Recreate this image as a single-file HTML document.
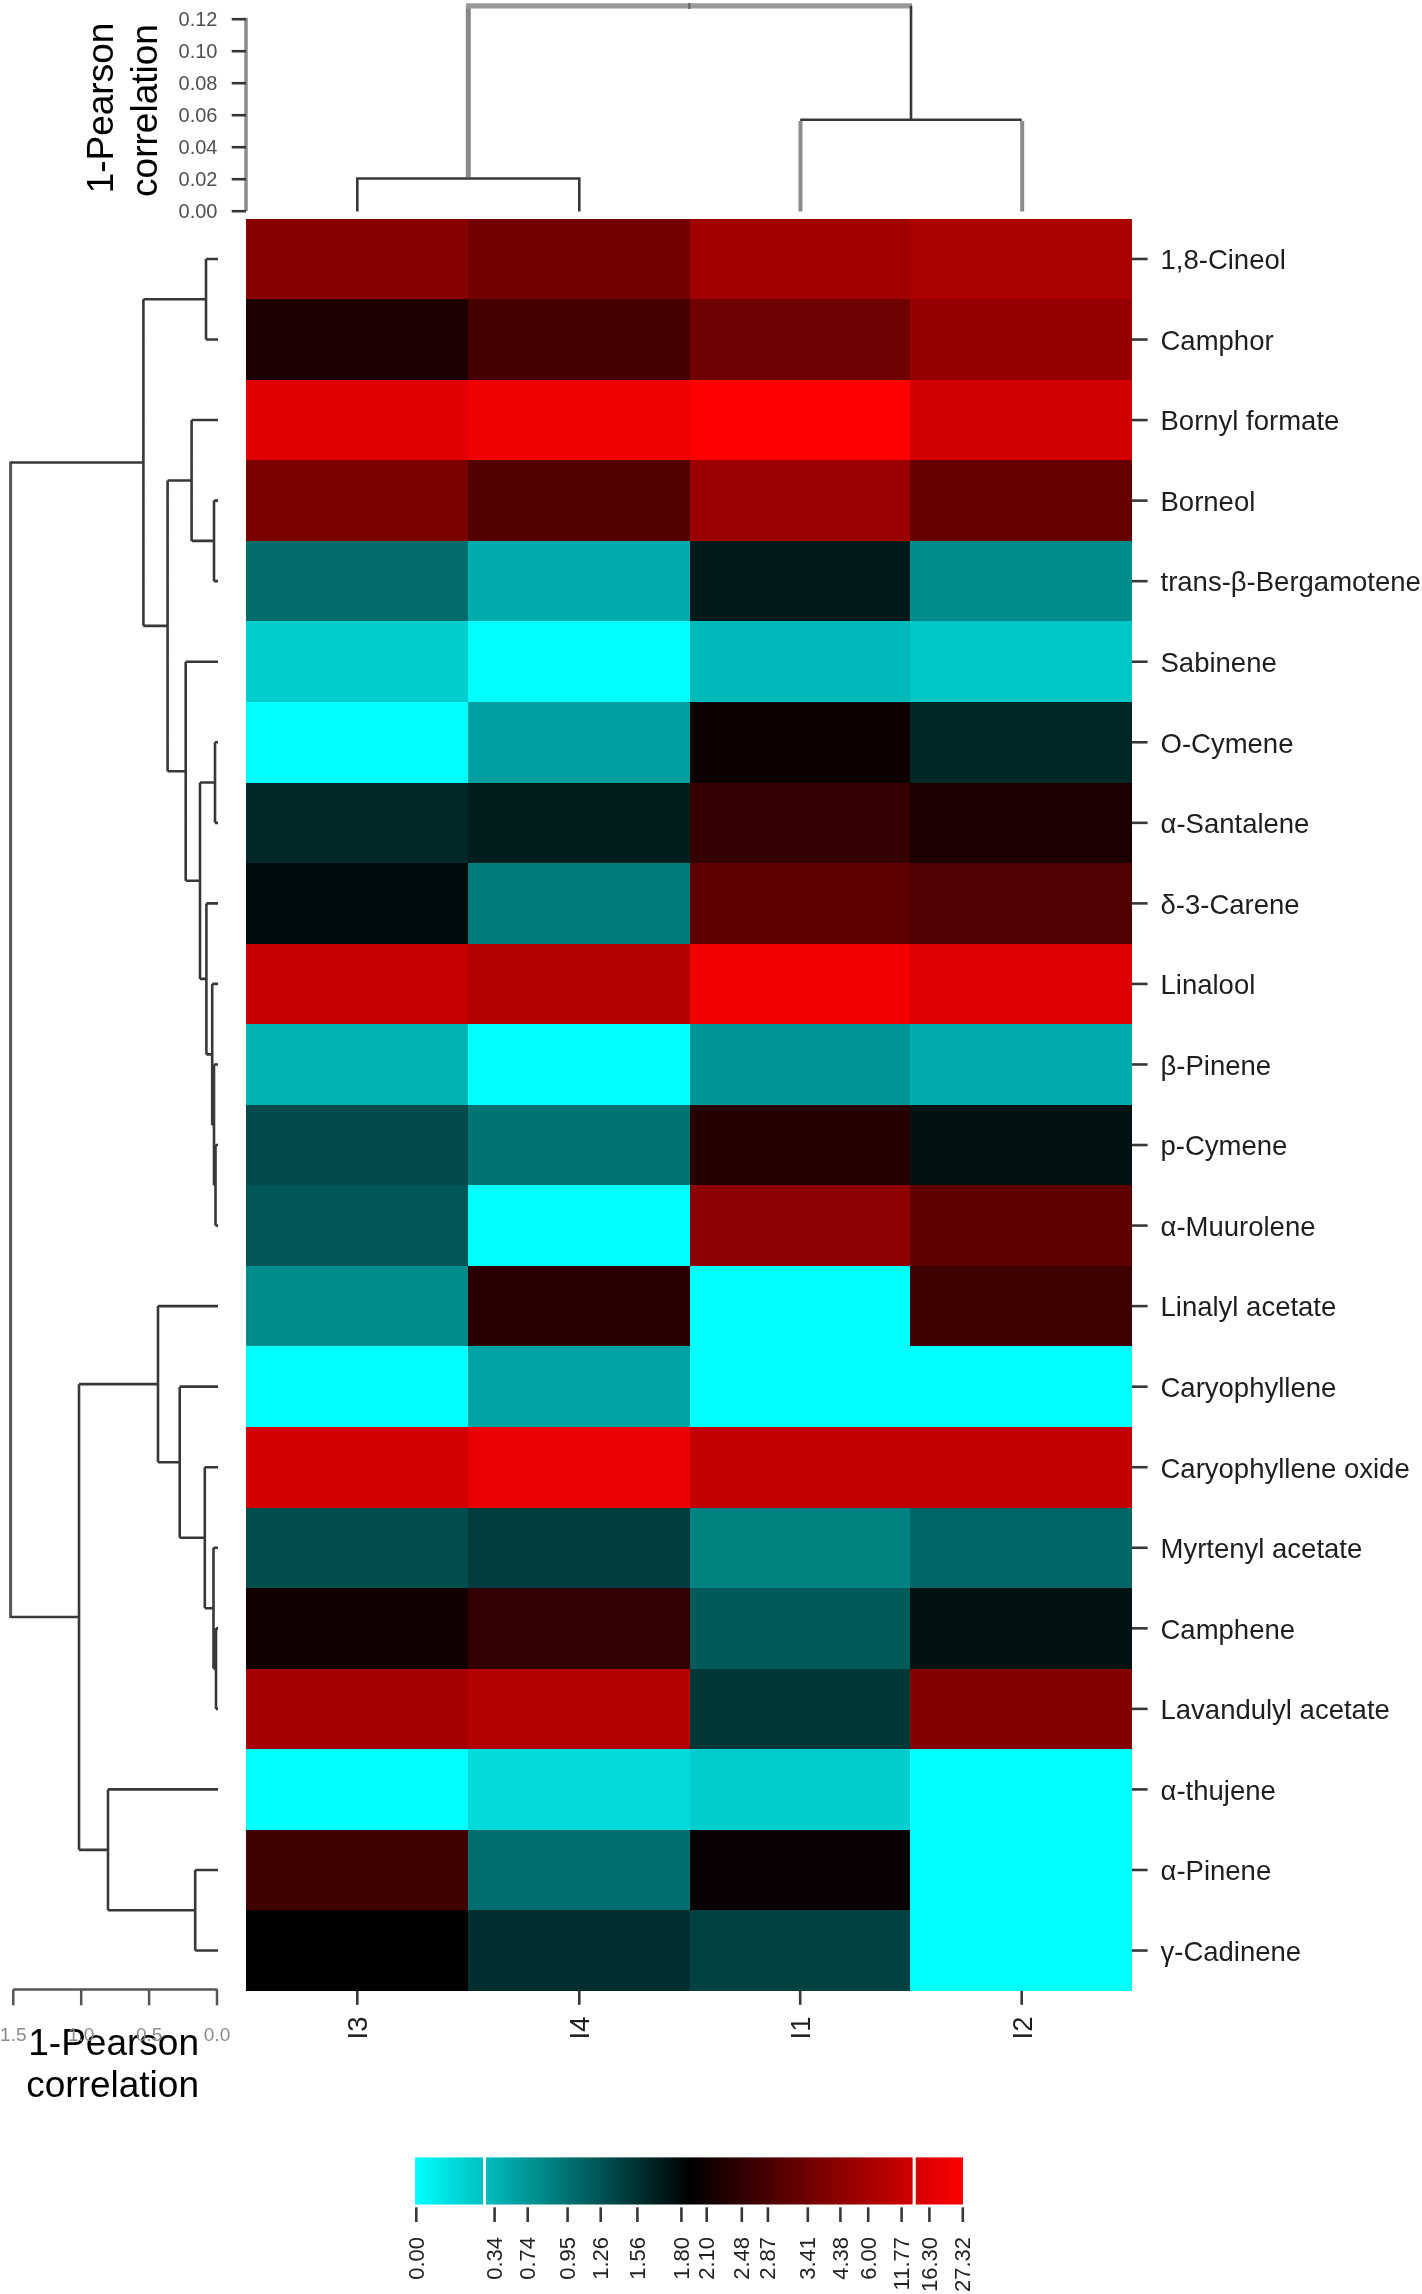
<!DOCTYPE html><html><head><meta charset="utf-8"><style>html,body{margin:0;padding:0;background:#fff;width:1422px;height:2294px;overflow:hidden}svg{display:block;will-change:transform}text{font-family:"Liberation Sans",sans-serif}</style></head><body>
<svg width="1422" height="2294" viewBox="0 0 1422 2294">
<rect x="246" y="219" width="222" height="80" fill="rgb(138,0,0)" shape-rendering="crispEdges"/>
<rect x="468" y="219" width="222" height="80" fill="rgb(115,0,0)" shape-rendering="crispEdges"/>
<rect x="690" y="219" width="220" height="80" fill="rgb(160,0,0)" shape-rendering="crispEdges"/>
<rect x="910" y="219" width="222" height="80" fill="rgb(172,0,0)" shape-rendering="crispEdges"/>
<rect x="246" y="299" width="222" height="81" fill="rgb(28,0,0)" shape-rendering="crispEdges"/>
<rect x="468" y="299" width="222" height="81" fill="rgb(70,0,0)" shape-rendering="crispEdges"/>
<rect x="690" y="299" width="220" height="81" fill="rgb(112,0,0)" shape-rendering="crispEdges"/>
<rect x="910" y="299" width="222" height="81" fill="rgb(150,0,0)" shape-rendering="crispEdges"/>
<rect x="246" y="380" width="222" height="80" fill="rgb(225,0,0)" shape-rendering="crispEdges"/>
<rect x="468" y="380" width="222" height="80" fill="rgb(240,0,0)" shape-rendering="crispEdges"/>
<rect x="690" y="380" width="220" height="80" fill="rgb(255,0,0)" shape-rendering="crispEdges"/>
<rect x="910" y="380" width="222" height="80" fill="rgb(210,0,0)" shape-rendering="crispEdges"/>
<rect x="246" y="460" width="222" height="81" fill="rgb(122,0,0)" shape-rendering="crispEdges"/>
<rect x="468" y="460" width="222" height="81" fill="rgb(82,0,0)" shape-rendering="crispEdges"/>
<rect x="690" y="460" width="220" height="81" fill="rgb(155,0,0)" shape-rendering="crispEdges"/>
<rect x="910" y="460" width="222" height="81" fill="rgb(102,0,0)" shape-rendering="crispEdges"/>
<rect x="246" y="541" width="222" height="80" fill="rgb(0,108,108)" shape-rendering="crispEdges"/>
<rect x="468" y="541" width="222" height="80" fill="rgb(0,172,172)" shape-rendering="crispEdges"/>
<rect x="690" y="541" width="220" height="80" fill="rgb(0,26,26)" shape-rendering="crispEdges"/>
<rect x="910" y="541" width="222" height="80" fill="rgb(0,140,140)" shape-rendering="crispEdges"/>
<rect x="246" y="621" width="222" height="81" fill="rgb(0,205,205)" shape-rendering="crispEdges"/>
<rect x="468" y="621" width="222" height="81" fill="rgb(0,255,255)" shape-rendering="crispEdges"/>
<rect x="690" y="621" width="220" height="81" fill="rgb(0,185,185)" shape-rendering="crispEdges"/>
<rect x="910" y="621" width="222" height="81" fill="rgb(0,198,198)" shape-rendering="crispEdges"/>
<rect x="246" y="702" width="222" height="81" fill="rgb(0,255,255)" shape-rendering="crispEdges"/>
<rect x="468" y="702" width="222" height="81" fill="rgb(0,160,160)" shape-rendering="crispEdges"/>
<rect x="690" y="702" width="220" height="81" fill="rgb(12,0,0)" shape-rendering="crispEdges"/>
<rect x="910" y="702" width="222" height="81" fill="rgb(0,38,38)" shape-rendering="crispEdges"/>
<rect x="246" y="783" width="222" height="80" fill="rgb(0,40,40)" shape-rendering="crispEdges"/>
<rect x="468" y="783" width="222" height="80" fill="rgb(0,30,30)" shape-rendering="crispEdges"/>
<rect x="690" y="783" width="220" height="80" fill="rgb(53,0,0)" shape-rendering="crispEdges"/>
<rect x="910" y="783" width="222" height="80" fill="rgb(28,0,0)" shape-rendering="crispEdges"/>
<rect x="246" y="863" width="222" height="81" fill="rgb(0,12,12)" shape-rendering="crispEdges"/>
<rect x="468" y="863" width="222" height="81" fill="rgb(0,122,122)" shape-rendering="crispEdges"/>
<rect x="690" y="863" width="220" height="81" fill="rgb(92,0,0)" shape-rendering="crispEdges"/>
<rect x="910" y="863" width="222" height="81" fill="rgb(80,0,0)" shape-rendering="crispEdges"/>
<rect x="246" y="944" width="222" height="80" fill="rgb(198,0,0)" shape-rendering="crispEdges"/>
<rect x="468" y="944" width="222" height="80" fill="rgb(180,0,0)" shape-rendering="crispEdges"/>
<rect x="690" y="944" width="220" height="80" fill="rgb(245,0,0)" shape-rendering="crispEdges"/>
<rect x="910" y="944" width="222" height="80" fill="rgb(220,0,0)" shape-rendering="crispEdges"/>
<rect x="246" y="1024" width="222" height="81" fill="rgb(0,180,180)" shape-rendering="crispEdges"/>
<rect x="468" y="1024" width="222" height="81" fill="rgb(0,255,255)" shape-rendering="crispEdges"/>
<rect x="690" y="1024" width="220" height="81" fill="rgb(0,150,150)" shape-rendering="crispEdges"/>
<rect x="910" y="1024" width="222" height="81" fill="rgb(0,172,172)" shape-rendering="crispEdges"/>
<rect x="246" y="1105" width="222" height="80" fill="rgb(0,74,74)" shape-rendering="crispEdges"/>
<rect x="468" y="1105" width="222" height="80" fill="rgb(0,115,115)" shape-rendering="crispEdges"/>
<rect x="690" y="1105" width="220" height="80" fill="rgb(38,0,0)" shape-rendering="crispEdges"/>
<rect x="910" y="1105" width="222" height="80" fill="rgb(0,18,18)" shape-rendering="crispEdges"/>
<rect x="246" y="1185" width="222" height="81" fill="rgb(0,86,86)" shape-rendering="crispEdges"/>
<rect x="468" y="1185" width="222" height="81" fill="rgb(0,255,255)" shape-rendering="crispEdges"/>
<rect x="690" y="1185" width="220" height="81" fill="rgb(140,0,0)" shape-rendering="crispEdges"/>
<rect x="910" y="1185" width="222" height="81" fill="rgb(95,0,0)" shape-rendering="crispEdges"/>
<rect x="246" y="1266" width="222" height="80" fill="rgb(0,140,140)" shape-rendering="crispEdges"/>
<rect x="468" y="1266" width="222" height="80" fill="rgb(45,0,0)" shape-rendering="crispEdges"/>
<rect x="690" y="1266" width="220" height="80" fill="rgb(0,255,255)" shape-rendering="crispEdges"/>
<rect x="910" y="1266" width="222" height="80" fill="rgb(62,0,0)" shape-rendering="crispEdges"/>
<rect x="246" y="1346" width="222" height="81" fill="rgb(0,255,255)" shape-rendering="crispEdges"/>
<rect x="468" y="1346" width="222" height="81" fill="rgb(0,162,162)" shape-rendering="crispEdges"/>
<rect x="690" y="1346" width="220" height="81" fill="rgb(0,255,255)" shape-rendering="crispEdges"/>
<rect x="910" y="1346" width="222" height="81" fill="rgb(0,255,255)" shape-rendering="crispEdges"/>
<rect x="246" y="1427" width="222" height="81" fill="rgb(212,0,0)" shape-rendering="crispEdges"/>
<rect x="468" y="1427" width="222" height="81" fill="rgb(235,0,0)" shape-rendering="crispEdges"/>
<rect x="690" y="1427" width="220" height="81" fill="rgb(195,0,0)" shape-rendering="crispEdges"/>
<rect x="910" y="1427" width="222" height="81" fill="rgb(195,0,0)" shape-rendering="crispEdges"/>
<rect x="246" y="1508" width="222" height="80" fill="rgb(0,79,79)" shape-rendering="crispEdges"/>
<rect x="468" y="1508" width="222" height="80" fill="rgb(0,60,60)" shape-rendering="crispEdges"/>
<rect x="690" y="1508" width="220" height="80" fill="rgb(0,130,130)" shape-rendering="crispEdges"/>
<rect x="910" y="1508" width="222" height="80" fill="rgb(0,102,102)" shape-rendering="crispEdges"/>
<rect x="246" y="1588" width="222" height="81" fill="rgb(18,0,0)" shape-rendering="crispEdges"/>
<rect x="468" y="1588" width="222" height="81" fill="rgb(50,0,0)" shape-rendering="crispEdges"/>
<rect x="690" y="1588" width="220" height="81" fill="rgb(0,90,90)" shape-rendering="crispEdges"/>
<rect x="910" y="1588" width="222" height="81" fill="rgb(0,18,18)" shape-rendering="crispEdges"/>
<rect x="246" y="1669" width="222" height="80" fill="rgb(165,0,0)" shape-rendering="crispEdges"/>
<rect x="468" y="1669" width="222" height="80" fill="rgb(180,0,0)" shape-rendering="crispEdges"/>
<rect x="690" y="1669" width="220" height="80" fill="rgb(0,55,55)" shape-rendering="crispEdges"/>
<rect x="910" y="1669" width="222" height="80" fill="rgb(132,0,0)" shape-rendering="crispEdges"/>
<rect x="246" y="1749" width="222" height="81" fill="rgb(0,255,255)" shape-rendering="crispEdges"/>
<rect x="468" y="1749" width="222" height="81" fill="rgb(0,218,218)" shape-rendering="crispEdges"/>
<rect x="690" y="1749" width="220" height="81" fill="rgb(0,205,205)" shape-rendering="crispEdges"/>
<rect x="910" y="1749" width="222" height="81" fill="rgb(0,255,255)" shape-rendering="crispEdges"/>
<rect x="246" y="1830" width="222" height="80" fill="rgb(65,0,0)" shape-rendering="crispEdges"/>
<rect x="468" y="1830" width="222" height="80" fill="rgb(0,110,110)" shape-rendering="crispEdges"/>
<rect x="690" y="1830" width="220" height="80" fill="rgb(8,0,0)" shape-rendering="crispEdges"/>
<rect x="910" y="1830" width="222" height="80" fill="rgb(0,255,255)" shape-rendering="crispEdges"/>
<rect x="246" y="1910" width="222" height="81" fill="rgb(2,0,0)" shape-rendering="crispEdges"/>
<rect x="468" y="1910" width="222" height="81" fill="rgb(0,45,45)" shape-rendering="crispEdges"/>
<rect x="690" y="1910" width="220" height="81" fill="rgb(0,65,65)" shape-rendering="crispEdges"/>
<rect x="910" y="1910" width="222" height="81" fill="rgb(0,255,255)" shape-rendering="crispEdges"/>
<line x1="1131.8" y1="258.97" x2="1147.6" y2="258.97" stroke="#383838" stroke-width="2.6" fill="none"/>
<text x="1160.5" y="269.27" font-size="27.5" fill="#1e1e1e">1,8-Cineol</text>
<line x1="1131.8" y1="339.52" x2="1147.6" y2="339.52" stroke="#383838" stroke-width="2.6" fill="none"/>
<text x="1160.5" y="349.82" font-size="27.5" fill="#1e1e1e">Camphor</text>
<line x1="1131.8" y1="420.07" x2="1147.6" y2="420.07" stroke="#383838" stroke-width="2.6" fill="none"/>
<text x="1160.5" y="430.38" font-size="27.5" fill="#1e1e1e">Bornyl formate</text>
<line x1="1131.8" y1="500.62" x2="1147.6" y2="500.62" stroke="#383838" stroke-width="2.6" fill="none"/>
<text x="1160.5" y="510.93" font-size="27.5" fill="#1e1e1e">Borneol</text>
<line x1="1131.8" y1="581.17" x2="1147.6" y2="581.17" stroke="#383838" stroke-width="2.6" fill="none"/>
<text x="1160.5" y="591.47" font-size="27.5" fill="#1e1e1e">trans-β-Bergamotene</text>
<line x1="1131.8" y1="661.72" x2="1147.6" y2="661.72" stroke="#383838" stroke-width="2.6" fill="none"/>
<text x="1160.5" y="672.02" font-size="27.5" fill="#1e1e1e">Sabinene</text>
<line x1="1131.8" y1="742.27" x2="1147.6" y2="742.27" stroke="#383838" stroke-width="2.6" fill="none"/>
<text x="1160.5" y="752.57" font-size="27.5" fill="#1e1e1e">O-Cymene</text>
<line x1="1131.8" y1="822.83" x2="1147.6" y2="822.83" stroke="#383838" stroke-width="2.6" fill="none"/>
<text x="1160.5" y="833.12" font-size="27.5" fill="#1e1e1e">α-Santalene</text>
<line x1="1131.8" y1="903.38" x2="1147.6" y2="903.38" stroke="#383838" stroke-width="2.6" fill="none"/>
<text x="1160.5" y="913.67" font-size="27.5" fill="#1e1e1e">δ-3-Carene</text>
<line x1="1131.8" y1="983.92" x2="1147.6" y2="983.92" stroke="#383838" stroke-width="2.6" fill="none"/>
<text x="1160.5" y="994.22" font-size="27.5" fill="#1e1e1e">Linalool</text>
<line x1="1131.8" y1="1064.47" x2="1147.6" y2="1064.47" stroke="#383838" stroke-width="2.6" fill="none"/>
<text x="1160.5" y="1074.77" font-size="27.5" fill="#1e1e1e">β-Pinene</text>
<line x1="1131.8" y1="1145.02" x2="1147.6" y2="1145.02" stroke="#383838" stroke-width="2.6" fill="none"/>
<text x="1160.5" y="1155.32" font-size="27.5" fill="#1e1e1e">p-Cymene</text>
<line x1="1131.8" y1="1225.58" x2="1147.6" y2="1225.58" stroke="#383838" stroke-width="2.6" fill="none"/>
<text x="1160.5" y="1235.88" font-size="27.5" fill="#1e1e1e">α-Muurolene</text>
<line x1="1131.8" y1="1306.12" x2="1147.6" y2="1306.12" stroke="#383838" stroke-width="2.6" fill="none"/>
<text x="1160.5" y="1316.42" font-size="27.5" fill="#1e1e1e">Linalyl acetate</text>
<line x1="1131.8" y1="1386.67" x2="1147.6" y2="1386.67" stroke="#383838" stroke-width="2.6" fill="none"/>
<text x="1160.5" y="1396.97" font-size="27.5" fill="#1e1e1e">Caryophyllene</text>
<line x1="1131.8" y1="1467.22" x2="1147.6" y2="1467.22" stroke="#383838" stroke-width="2.6" fill="none"/>
<text x="1160.5" y="1477.52" font-size="27.5" fill="#1e1e1e">Caryophyllene oxide</text>
<line x1="1131.8" y1="1547.78" x2="1147.6" y2="1547.78" stroke="#383838" stroke-width="2.6" fill="none"/>
<text x="1160.5" y="1558.08" font-size="27.5" fill="#1e1e1e">Myrtenyl acetate</text>
<line x1="1131.8" y1="1628.33" x2="1147.6" y2="1628.33" stroke="#383838" stroke-width="2.6" fill="none"/>
<text x="1160.5" y="1638.62" font-size="27.5" fill="#1e1e1e">Camphene</text>
<line x1="1131.8" y1="1708.88" x2="1147.6" y2="1708.88" stroke="#383838" stroke-width="2.6" fill="none"/>
<text x="1160.5" y="1719.17" font-size="27.5" fill="#1e1e1e">Lavandulyl acetate</text>
<line x1="1131.8" y1="1789.42" x2="1147.6" y2="1789.42" stroke="#383838" stroke-width="2.6" fill="none"/>
<text x="1160.5" y="1799.72" font-size="27.5" fill="#1e1e1e">α-thujene</text>
<line x1="1131.8" y1="1869.97" x2="1147.6" y2="1869.97" stroke="#383838" stroke-width="2.6" fill="none"/>
<text x="1160.5" y="1880.27" font-size="27.5" fill="#1e1e1e">α-Pinene</text>
<line x1="1131.8" y1="1950.53" x2="1147.6" y2="1950.53" stroke="#383838" stroke-width="2.6" fill="none"/>
<text x="1160.5" y="1960.83" font-size="27.5" fill="#1e1e1e">γ-Cadinene</text>
<line x1="357.30" y1="1990.8" x2="357.30" y2="2004.8" stroke="#383838" stroke-width="2.6" fill="none"/>
<text transform="translate(367.10,2016.5) rotate(-90)" text-anchor="end" font-size="27.5" fill="#1e1e1e">I3</text>
<line x1="579.30" y1="1990.8" x2="579.30" y2="2004.8" stroke="#383838" stroke-width="2.6" fill="none"/>
<text transform="translate(589.10,2016.5) rotate(-90)" text-anchor="end" font-size="27.5" fill="#1e1e1e">I4</text>
<line x1="800.20" y1="1990.8" x2="800.20" y2="2004.8" stroke="#383838" stroke-width="2.6" fill="none"/>
<text transform="translate(810.00,2016.5) rotate(-90)" text-anchor="end" font-size="27.5" fill="#1e1e1e">I1</text>
<line x1="1021.70" y1="1990.8" x2="1021.70" y2="2004.8" stroke="#383838" stroke-width="2.6" fill="none"/>
<text transform="translate(1031.50,2016.5) rotate(-90)" text-anchor="end" font-size="27.5" fill="#1e1e1e">I2</text>
<path d="M357.30,211.4V178.5H579.30V211.4" stroke="#383838" stroke-width="2.6" fill="none"/>
<path d="M800.20,119.7H1021.70" stroke="#383838" stroke-width="2.6" fill="none"/>
<path d="M800.50,121V211.4M1022.20,121V211.4" stroke="#8c8c8c" stroke-width="4" fill="none"/>
<path d="M468.3,177V5.8" stroke="#8a8a8a" stroke-width="5" fill="none"/>
<path d="M466,5.8H912.00" stroke="#9a9a9a" stroke-width="5.2" fill="none"/>
<path d="M911.00,5.8V119.7" stroke="#383838" stroke-width="2.6" fill="none"/>
<path d="M689.3,3V9" stroke="#666" stroke-width="2.2" fill="none"/>
<path d="M246,17.8V211.2" stroke="#8a8a8a" stroke-width="3.5" fill="none"/>
<line x1="231.7" y1="211.20" x2="246" y2="211.20" stroke="#383838" stroke-width="2.6" fill="none"/>
<text x="217.5" y="218.40" font-size="20" fill="#505050" text-anchor="end">0.00</text>
<line x1="231.7" y1="179.20" x2="246" y2="179.20" stroke="#383838" stroke-width="2.6" fill="none"/>
<text x="217.5" y="186.40" font-size="20" fill="#505050" text-anchor="end">0.02</text>
<line x1="231.7" y1="147.20" x2="246" y2="147.20" stroke="#383838" stroke-width="2.6" fill="none"/>
<text x="217.5" y="154.40" font-size="20" fill="#505050" text-anchor="end">0.04</text>
<line x1="231.7" y1="115.20" x2="246" y2="115.20" stroke="#383838" stroke-width="2.6" fill="none"/>
<text x="217.5" y="122.40" font-size="20" fill="#505050" text-anchor="end">0.06</text>
<line x1="231.7" y1="83.20" x2="246" y2="83.20" stroke="#383838" stroke-width="2.6" fill="none"/>
<text x="217.5" y="90.40" font-size="20" fill="#505050" text-anchor="end">0.08</text>
<line x1="231.7" y1="51.20" x2="246" y2="51.20" stroke="#383838" stroke-width="2.6" fill="none"/>
<text x="217.5" y="58.40" font-size="20" fill="#505050" text-anchor="end">0.10</text>
<line x1="231.7" y1="19.20" x2="246" y2="19.20" stroke="#383838" stroke-width="2.6" fill="none"/>
<text x="217.5" y="26.40" font-size="20" fill="#505050" text-anchor="end">0.12</text>
<text transform="translate(112.7,108) rotate(-90)" text-anchor="middle" font-size="37" fill="#000">1-Pearson</text>
<text transform="translate(157.2,110.5) rotate(-90)" text-anchor="middle" font-size="37" fill="#000">correlation</text>
<path d="M10.6,461.55V1618.00" stroke="#555" stroke-width="3" fill="none"/>
<path d="M206.00,258.97L206.00,339.52M206.00,258.97L218.00,258.97M206.00,339.52L218.00,339.52M214.00,500.62L214.00,581.17M214.00,500.62L218.00,500.62M214.00,581.17L218.00,581.17M191.60,420.07L191.60,540.90M191.60,420.07L218.00,420.07M191.60,540.90L214.00,540.90M215.00,742.27L215.00,822.83M215.00,742.27L218.00,742.27M215.00,822.83L218.00,822.83M215.50,1145.02L215.50,1225.58M215.50,1145.02L218.00,1145.02M215.50,1225.58L218.00,1225.58M214.00,1064.47L214.00,1185.30M214.00,1064.47L218.00,1064.47M214.00,1185.30L215.50,1185.30M212.20,983.92L212.20,1124.89M212.20,983.92L218.00,983.92M212.20,1124.89L214.00,1124.89M206.40,903.38L206.40,1054.41M206.40,903.38L218.00,903.38M206.40,1054.41L212.20,1054.41M200.00,782.55L200.00,978.89M200.00,782.55L215.00,782.55M200.00,978.89L206.40,978.89M185.70,661.72L185.70,880.72M185.70,661.72L218.00,661.72M185.70,880.72L200.00,880.72M167.60,480.49L167.60,771.22M167.60,480.49L191.60,480.49M167.60,771.22L185.70,771.22M143.40,299.25L143.40,625.86M143.40,299.25L206.00,299.25M143.40,625.86L167.60,625.86M216.00,1628.33L216.00,1708.88M216.00,1628.33L218.00,1628.33M216.00,1708.88L218.00,1708.88M213.50,1547.78L213.50,1668.60M213.50,1547.78L218.00,1547.78M213.50,1668.60L216.00,1668.60M204.80,1467.22L204.80,1608.19M204.80,1467.22L218.00,1467.22M204.80,1608.19L213.50,1608.19M179.70,1386.67L179.70,1537.71M179.70,1386.67L218.00,1386.67M179.70,1537.71L204.80,1537.71M158.00,1306.12L158.00,1462.19M158.00,1306.12L218.00,1306.12M158.00,1462.19L179.70,1462.19M195.20,1869.97L195.20,1950.53M195.20,1869.97L218.00,1869.97M195.20,1950.53L218.00,1950.53M108.00,1789.42L108.00,1910.25M108.00,1789.42L218.00,1789.42M108.00,1910.25L195.20,1910.25M79.00,1384.16L79.00,1849.84M79.00,1384.16L158.00,1384.16M79.00,1849.84L108.00,1849.84M10.70,462.55L143.40,462.55M10.70,1617.00L79.00,1617.00" stroke="#383838" stroke-width="2.6" fill="none"/>
<text x="199" y="2055.1" font-size="37" fill="#000" text-anchor="end">1-Pearson</text>
<text x="199" y="2096.5" font-size="37" fill="#000" text-anchor="end">correlation</text>
<path d="M13.2,1989.5H217.5" stroke="#555" stroke-width="2.5" fill="none"/>
<line x1="217.00" y1="1989.5" x2="217.00" y2="2005.3" stroke="#555" stroke-width="2.5"/>
<text x="217.00" y="2040.5" font-size="19" fill="#8a8a8a" text-anchor="middle">0.0</text>
<line x1="149.10" y1="1989.5" x2="149.10" y2="2005.3" stroke="#555" stroke-width="2.5"/>
<text x="149.10" y="2040.5" font-size="19" fill="#8a8a8a" text-anchor="middle">0.5</text>
<line x1="81.20" y1="1989.5" x2="81.20" y2="2005.3" stroke="#555" stroke-width="2.5"/>
<text x="81.20" y="2040.5" font-size="19" fill="#8a8a8a" text-anchor="middle">1.0</text>
<line x1="13.30" y1="1989.5" x2="13.30" y2="2005.3" stroke="#555" stroke-width="2.5"/>
<text x="13.30" y="2040.5" font-size="19" fill="#8a8a8a" text-anchor="middle">1.5</text>
<defs><linearGradient id="kg" gradientUnits="userSpaceOnUse" x1="415.1" y1="0" x2="963" y2="0"><stop offset="0" stop-color="rgb(0,255,255)"/><stop offset="0.5017" stop-color="rgb(0,0,0)"/><stop offset="1" stop-color="rgb(255,0,0)"/></linearGradient></defs>
<rect x="415.1" y="2157.4" width="547.9" height="47.1" fill="url(#kg)"/>
<rect x="483.1" y="2156" width="2.9" height="50" fill="#fff"/>
<rect x="912.6" y="2156" width="3.1" height="50" fill="#fff"/>
<line x1="416.30" y1="2207.3" x2="416.30" y2="2222" stroke="#383838" stroke-width="2.6" fill="none"/>
<text transform="translate(423.80,2237) rotate(-90)" text-anchor="end" font-size="22" fill="#222">0.00</text>
<line x1="494.60" y1="2207.3" x2="494.60" y2="2222" stroke="#383838" stroke-width="2.6" fill="none"/>
<text transform="translate(502.10,2237) rotate(-90)" text-anchor="end" font-size="22" fill="#222">0.34</text>
<line x1="527.70" y1="2207.3" x2="527.70" y2="2222" stroke="#383838" stroke-width="2.6" fill="none"/>
<text transform="translate(535.20,2237) rotate(-90)" text-anchor="end" font-size="22" fill="#222">0.74</text>
<line x1="567.60" y1="2207.3" x2="567.60" y2="2222" stroke="#383838" stroke-width="2.6" fill="none"/>
<text transform="translate(575.10,2237) rotate(-90)" text-anchor="end" font-size="22" fill="#222">0.95</text>
<line x1="600.70" y1="2207.3" x2="600.70" y2="2222" stroke="#383838" stroke-width="2.6" fill="none"/>
<text transform="translate(608.20,2237) rotate(-90)" text-anchor="end" font-size="22" fill="#222">1.26</text>
<line x1="637.40" y1="2207.3" x2="637.40" y2="2222" stroke="#383838" stroke-width="2.6" fill="none"/>
<text transform="translate(644.90,2237) rotate(-90)" text-anchor="end" font-size="22" fill="#222">1.56</text>
<line x1="681.40" y1="2207.3" x2="681.40" y2="2222" stroke="#383838" stroke-width="2.6" fill="none"/>
<text transform="translate(688.90,2237) rotate(-90)" text-anchor="end" font-size="22" fill="#222">1.80</text>
<line x1="706.70" y1="2207.3" x2="706.70" y2="2222" stroke="#383838" stroke-width="2.6" fill="none"/>
<text transform="translate(714.20,2237) rotate(-90)" text-anchor="end" font-size="22" fill="#222">2.10</text>
<line x1="741.80" y1="2207.3" x2="741.80" y2="2222" stroke="#383838" stroke-width="2.6" fill="none"/>
<text transform="translate(749.30,2237) rotate(-90)" text-anchor="end" font-size="22" fill="#222">2.48</text>
<line x1="767.90" y1="2207.3" x2="767.90" y2="2222" stroke="#383838" stroke-width="2.6" fill="none"/>
<text transform="translate(775.40,2237) rotate(-90)" text-anchor="end" font-size="22" fill="#222">2.87</text>
<line x1="807.80" y1="2207.3" x2="807.80" y2="2222" stroke="#383838" stroke-width="2.6" fill="none"/>
<text transform="translate(815.30,2237) rotate(-90)" text-anchor="end" font-size="22" fill="#222">3.41</text>
<line x1="840.40" y1="2207.3" x2="840.40" y2="2222" stroke="#383838" stroke-width="2.6" fill="none"/>
<text transform="translate(847.90,2237) rotate(-90)" text-anchor="end" font-size="22" fill="#222">4.38</text>
<line x1="868.20" y1="2207.3" x2="868.20" y2="2222" stroke="#383838" stroke-width="2.6" fill="none"/>
<text transform="translate(875.70,2237) rotate(-90)" text-anchor="end" font-size="22" fill="#222">6.00</text>
<line x1="901.60" y1="2207.3" x2="901.60" y2="2222" stroke="#383838" stroke-width="2.6" fill="none"/>
<text transform="translate(909.10,2237) rotate(-90)" text-anchor="end" font-size="22" fill="#222">11.77</text>
<line x1="929.40" y1="2207.3" x2="929.40" y2="2222" stroke="#383838" stroke-width="2.6" fill="none"/>
<text transform="translate(936.90,2237) rotate(-90)" text-anchor="end" font-size="22" fill="#222">16.30</text>
<line x1="962.80" y1="2207.3" x2="962.80" y2="2222" stroke="#383838" stroke-width="2.6" fill="none"/>
<text transform="translate(970.30,2237) rotate(-90)" text-anchor="end" font-size="22" fill="#222">27.32</text>
</svg></body></html>
